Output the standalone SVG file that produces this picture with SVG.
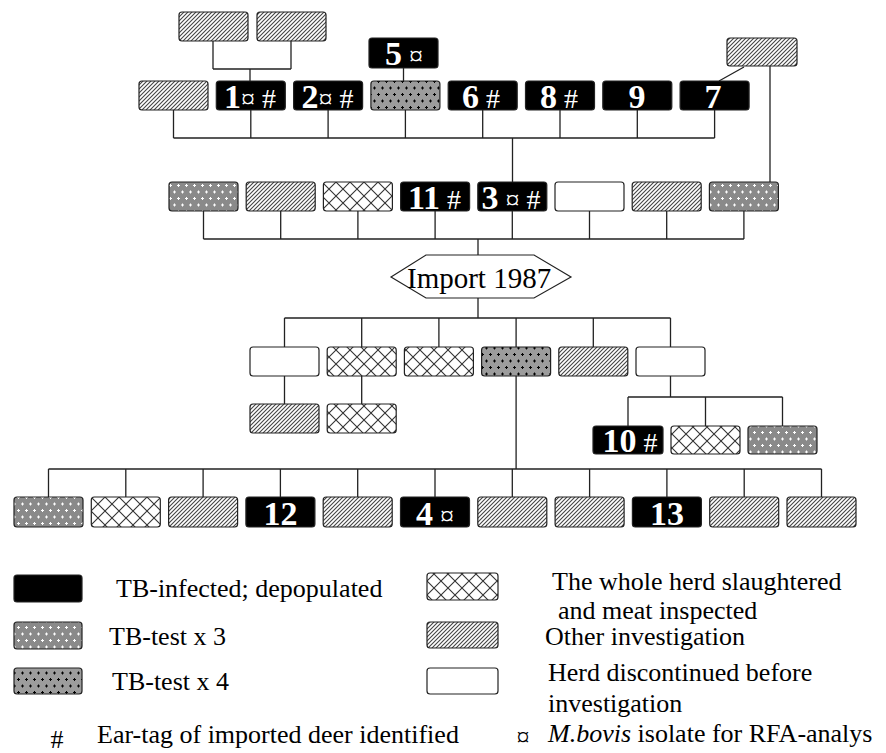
<svg xmlns="http://www.w3.org/2000/svg" width="886" height="753" viewBox="0 0 886 753">
<defs>
<pattern id="hatch" width="4" height="4" patternUnits="userSpaceOnUse">
<rect width="4" height="4" fill="#fff"/>
<path d="M-1,1L1,-1M0,4L4,0M3,5L5,3" stroke="#444" stroke-width="1.1"/>
</pattern>
<pattern id="cross" width="14" height="14" patternUnits="userSpaceOnUse">
<rect width="14" height="14" fill="#fff"/>
<path d="M0,0L14,14M14,0L0,14" stroke="#333" stroke-width="1.1"/>
</pattern>
<pattern id="dot3" width="8" height="13" patternUnits="userSpaceOnUse">
<rect width="8" height="13" fill="#8a8a8a"/>
<path d="M1,3.5h3M2.5,2v3M5,10h3M6.5,8.5v3" stroke="#fff" stroke-width="1"/>
</pattern>
<pattern id="dot4" width="8" height="13" patternUnits="userSpaceOnUse">
<rect width="8" height="13" fill="#9c9c9c"/>
<path d="M1,3.5h3M2.5,2v3M5,10h3M6.5,8.5v3" stroke="#000" stroke-width="1"/>
</pattern>
<style>
.box{stroke:#222;stroke-width:1.2}
.hatch{fill:url(#hatch)}
.cross{fill:url(#cross)}
.dot3{fill:url(#dot3)}
.dot4{fill:url(#dot4)}
.blk{fill:#000}
.wht{fill:#fff}
.conn{stroke:#222;stroke-width:1.3;fill:none}
.lbl{font-family:"Liberation Serif","Times New Roman",serif;font-size:28px;fill:#fff;text-anchor:middle}
.num{font-weight:bold;font-size:34px}
.leg{font-family:"Liberation Serif","Times New Roman",serif;font-size:26px;fill:#000}
</style>
</defs>
<rect width="886" height="753" fill="#fff"/>

<g id="connectors">
<path class="conn" d="M213,41V69M291,41V69M213,69H291M250,69V81"/>
<path class="conn" d="M403.5,68V81"/>
<path class="conn" d="M744,67L719,81M770,66V182"/>
<path class="conn" d="M173.5,110V138M250.8,110V138M328.1,110V138M405.4,110V138M482.7,110V138M560,110V138M637.3,110V138M714.6,110V138M173.5,138H714.6M512.5,138V182"/>
<path class="conn" d="M203.5,211V239M280.7,211V239M357.9,211V239M435.1,211V239M512.3,211V239M589.5,211V239M666.7,211V239M743.9,211V239M203.5,239H743.9M478,239V255"/>
<path class="conn" d="M478,298V318M284.5,318H670.5M284.5,318V347M361.7,318V347M438.9,318V347M516.1,318V347M593.3,318V347M670.5,318V347"/>
<path class="conn" d="M284.5,376V404M361.7,376V404"/>
<path class="conn" d="M670.5,376V397M628,397H782.5M628,397V426M705.5,397V426M782.5,397V426"/>
<path class="conn" d="M516.1,376V469M48.5,469H821.5M48.5,469V497M125.8,469V497M203.1,469V497M280.4,469V497M357.7,469V497M435,469V497M512.3,469V497M589.6,469V497M666.9,469V497M744.2,469V497M821.5,469V497"/>
</g>

<g id="t1"><rect class="box hatch" x="179" y="12" width="69" height="29" rx="3"/></g>
<g id="t2"><rect class="box hatch" x="257" y="12" width="69" height="29" rx="3"/></g>
<g id="n5"><rect class="box blk" x="369" y="38" width="69" height="30" rx="3"/><text class="lbl" x="404" y="65"><tspan class="num">5</tspan> ¤</text></g>
<g id="tr"><rect class="box hatch" x="727" y="38" width="70" height="28" rx="3"/></g>

<g id="r1a"><rect class="box hatch" x="139" y="81" width="69" height="29" rx="3"/></g>
<g id="n1"><rect class="box blk" x="216.3" y="81" width="69" height="29" rx="3"/><text class="lbl" x="250" y="108"><tspan class="num">1</tspan>¤ #</text></g>
<g id="n2"><rect class="box blk" x="293.6" y="81" width="69" height="29" rx="3"/><text class="lbl" x="327.5" y="108"><tspan class="num">2</tspan>¤ #</text></g>
<g id="r1d"><rect class="box dot4" x="370.9" y="81" width="69" height="29" rx="3"/></g>
<g id="n6"><rect class="box blk" x="448.2" y="81" width="69" height="29" rx="3"/><text class="lbl" x="481" y="108"><tspan class="num">6</tspan> #</text></g>
<g id="n8"><rect class="box blk" x="525.5" y="81" width="69" height="29" rx="3"/><text class="lbl" x="559" y="108"><tspan class="num">8</tspan> #</text></g>
<g id="n9"><rect class="box blk" x="602.8" y="81" width="69" height="29" rx="3"/><text class="lbl num" x="637" y="108">9</text></g>
<g id="n7"><rect class="box blk" x="680.1" y="81" width="69" height="29" rx="3"/><text class="lbl num" x="713" y="108">7</text></g>

<g id="r2a"><rect class="box dot3" x="169" y="182" width="69" height="29" rx="3"/></g>
<g id="r2b"><rect class="box hatch" x="246.2" y="182" width="69" height="29" rx="3"/></g>
<g id="r2c"><rect class="box cross" x="323.4" y="182" width="69" height="29" rx="3"/></g>
<g id="n11"><rect class="box blk" x="400.6" y="182" width="69" height="29" rx="3"/><text class="lbl" x="434.5" y="209"><tspan class="num">11</tspan> #</text></g>
<g id="n3"><rect class="box blk" x="477.8" y="182" width="69" height="29" rx="3"/><text class="lbl" x="511" y="209"><tspan class="num">3</tspan> ¤ #</text></g>
<g id="r2f"><rect class="box wht" x="555" y="182" width="69" height="29" rx="3"/></g>
<g id="r2g"><rect class="box hatch" x="632.2" y="182" width="69" height="29" rx="3"/></g>
<g id="r2h"><rect class="box dot3" x="709.4" y="182" width="69" height="29" rx="3"/></g>

<g id="import"><polygon points="391,277 426,255 534,255 571,277 534,298 426,298" fill="#fff" stroke="#222" stroke-width="1.2"/><text x="407" y="288" font-family="'Liberation Serif','Times New Roman',serif" font-size="29" fill="#000">Import 1987</text></g>

<g id="r3a"><rect class="box wht" x="250" y="347" width="69" height="29" rx="3"/></g>
<g id="r3b"><rect class="box cross" x="327.2" y="347" width="69" height="29" rx="3"/></g>
<g id="r3c"><rect class="box cross" x="404.4" y="347" width="69" height="29" rx="3"/></g>
<g id="r3d"><rect class="box dot4" x="481.6" y="347" width="69" height="29" rx="3"/></g>
<g id="r3e"><rect class="box hatch" x="558.8" y="347" width="69" height="29" rx="3"/></g>
<g id="r3f"><rect class="box wht" x="636" y="347" width="69" height="29" rx="3"/></g>

<g id="r3ba"><rect class="box hatch" x="250" y="404" width="69" height="29" rx="3"/></g>
<g id="r3bb"><rect class="box cross" x="327.2" y="404" width="69" height="29" rx="3"/></g>

<g id="n10"><rect class="box blk" x="593" y="426" width="70" height="28" rx="3"/><text class="lbl" x="630" y="452"><tspan class="num">10</tspan> #</text></g>
<g id="r3cb"><rect class="box cross" x="671" y="426" width="69" height="28" rx="3"/></g>
<g id="r3cc"><rect class="box dot3" x="748" y="426" width="69" height="28" rx="3"/></g>

<g id="r4a"><rect class="box dot3" x="14" y="497" width="69" height="30" rx="3"/></g>
<g id="r4b"><rect class="box cross" x="91.3" y="497" width="69" height="30" rx="3"/></g>
<g id="r4c"><rect class="box hatch" x="168.6" y="497" width="69" height="30" rx="3"/></g>
<g id="n12"><rect class="box blk" x="245.9" y="497" width="69" height="30" rx="3"/><text class="lbl num" x="280.4" y="525">12</text></g>
<g id="r4e"><rect class="box hatch" x="323.2" y="497" width="69" height="30" rx="3"/></g>
<g id="n4"><rect class="box blk" x="400.5" y="497" width="69" height="30" rx="3"/><text class="lbl" x="435" y="525"><tspan class="num">4</tspan> ¤</text></g>
<g id="r4g"><rect class="box hatch" x="477.8" y="497" width="69" height="30" rx="3"/></g>
<g id="r4h"><rect class="box hatch" x="555.1" y="497" width="69" height="30" rx="3"/></g>
<g id="n13"><rect class="box blk" x="632.4" y="497" width="69" height="30" rx="3"/><text class="lbl num" x="666.9" y="525">13</text></g>
<g id="r4j"><rect class="box hatch" x="709.7" y="497" width="69" height="30" rx="3"/></g>
<g id="r4k"><rect class="box hatch" x="787" y="497" width="69" height="30" rx="3"/></g>

<g id="legend">
<rect class="box blk" x="14" y="575" width="68" height="27" rx="3"/>
<text class="leg" x="116" y="597">TB-infected; depopulated</text>
<rect class="box dot3" x="14" y="622" width="68" height="27" rx="3"/>
<text class="leg" x="109" y="645">TB-test x 3</text>
<rect class="box dot4" x="14" y="668" width="68" height="26" rx="3"/>
<text class="leg" x="112" y="690">TB-test x 4</text>
<text class="leg" x="57" y="748" font-size="20" text-anchor="middle">#</text>
<text class="leg" x="97" y="743">Ear-tag of imported deer identified</text>
<rect class="box cross" x="427" y="573" width="71" height="27" rx="3"/>
<text class="leg" x="552" y="590">The whole herd slaughtered</text>
<text class="leg" x="558" y="619" font-size="25">and meat inspected</text>
<rect class="box hatch" x="427" y="622" width="71" height="26" rx="3"/>
<text class="leg" x="545" y="645" font-size="25">Other investigation</text>
<rect class="box wht" x="427" y="668" width="71" height="26" rx="3"/>
<text class="leg" x="548" y="681">Herd discontinued before</text>
<text class="leg" x="548" y="712">investigation</text>
<text class="leg" x="523" y="746" font-size="18" text-anchor="middle">¤</text>
<text class="leg" x="548" y="742"><tspan font-style="italic">M.bovis</tspan> isolate for RFA-analys</text>
</g>
</svg>
